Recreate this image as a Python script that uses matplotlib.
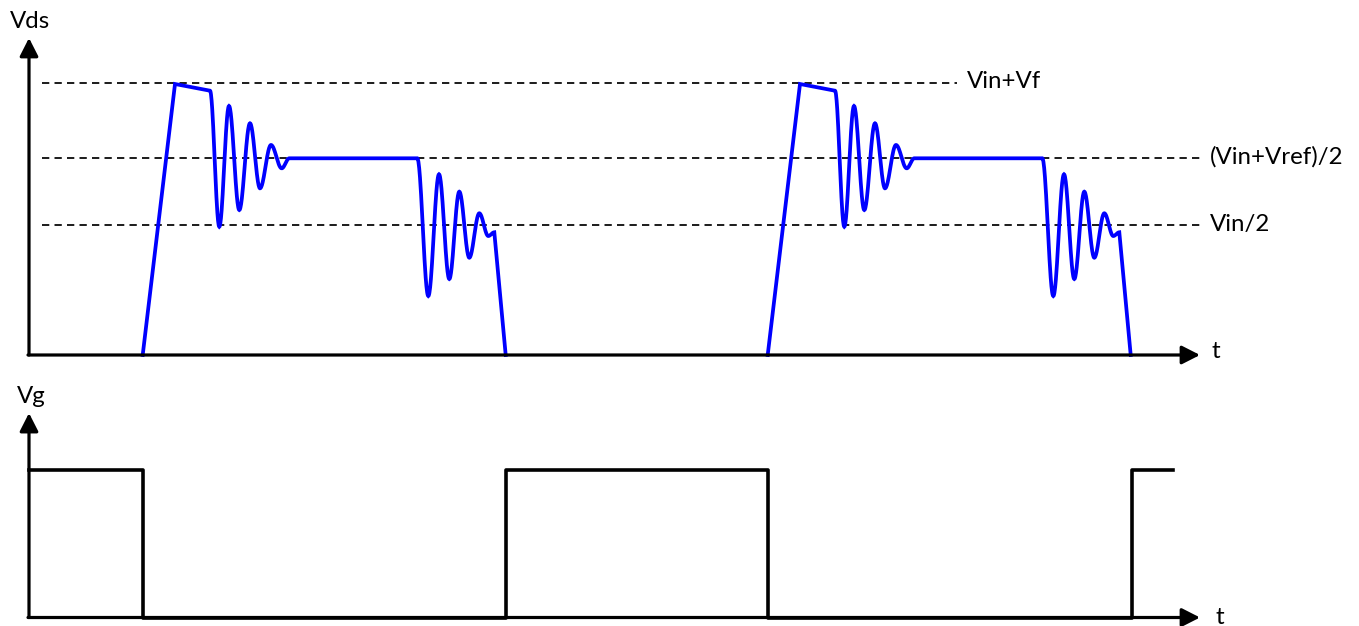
import numpy as np
import matplotlib
matplotlib.use('Agg')
import matplotlib.pyplot as plt

plt.rcParams['font.family'] = ['Lato', 'DejaVu Sans']

# One switching period of Vds (time, level) - corner and ringing extrema
period = 625.0
vds_t = [113.7, 146, 181, 190.3, 200, 210.3, 221, 231, 242, 252.7, 260.3,
         388.3, 399.3, 410, 420.3, 430.3, 440.3, 450.3, 459.3, 465.3, 476.7]
vds_v = [0, 271, 264.3, 128.3, 249, 145, 231.7, 166.7, 210, 186.7, 196.7,
         196.7, 59, 180.7, 76, 163.3, 97.3, 141.7, 119, 122.7, 0]
# segment shape: 0 = straight, 1 = smooth ringing
vds_seg = [0, 0, 1, 1, 1, 1, 1, 1, 1, 1, 0, 1, 1, 1, 1, 1, 1, 1, 1, 0]
n_periods = 2

# reference levels
levels = [272, 196.7, 130]
level_labels = ['Vin+Vf', '(Vin+Vref)/2', 'Vin/2']
level_end = [928, 1171, 1171]
level_label_t = [938, 1181, 1181]

# gate drive
vg_t = [0, 113.7, 113.7, 476.7, 476.7, 738.7, 738.7, 1102.7, 1102.7, 1144.3]
vg_v = [1, 1, 0, 0, 1, 1, 0, 0, 1, 1]


def build_wave(ts, vs, seg):
    xs, ys = [ts[0]], [vs[0]]
    for i, kind in enumerate(seg):
        a, b = ts[i], ts[i + 1]
        va, vb = vs[i], vs[i + 1]
        if kind == 0:
            xs.append(b)
            ys.append(vb)
        else:
            s = np.linspace(0, 1, 30)[1:]
            xs.extend(a + (b - a) * s)
            ys.extend(va + (vb - va) * (1 - np.cos(np.pi * s)) / 2)
    return np.array(xs), np.array(ys)


W, H = 1359, 626
fig = plt.figure(figsize=(W / 100, H / 100), dpi=100)
ax1 = fig.add_axes([0, 246 / H, 1, 380 / H])
ax2 = fig.add_axes([0, 0, 1, 246 / H])
for ax in (ax1, ax2):
    ax.set_xlim(-29, W - 29)
    ax.axis('off')
ax1.set_ylim(-25, 355)
ax2.set_ylim(-8.5 / 147.5, 237.5 / 147.5)

arrow = dict(arrowstyle='-|>,head_length=0.55,head_width=0.28', lw=2.3,
             color='black', mutation_scale=20, shrinkA=0, shrinkB=0)

# Vds panel
for lv, lab, te, tl in zip(levels, level_labels, level_end, level_label_t):
    ax1.plot([13, te], [lv, lv], color='black', lw=1.25,
             linestyle=(0, (4.2, 3.0)), zorder=1)
    ax1.text(tl, lv + 1, lab, fontsize=17.3, va='center', ha='left')

x, y = build_wave(vds_t, vds_v, vds_seg)
for k in range(n_periods):
    ax1.plot(x + k * period, y, color='#0000ff', lw=2.7, zorder=3,
             solid_joinstyle='miter')

ax1.annotate('', xy=(0, 317), xytext=(0, 0), arrowprops=arrow)
ax1.annotate('', xy=(1171, 0), xytext=(-1, 0), arrowprops=arrow)
ax1.text(1, 333, 'Vds', fontsize=17.3, ha='center', va='center')
ax1.text(1187, 3, 't', fontsize=17.3, ha='center', va='center')

# Vg panel
ax2.plot(vg_t, vg_v, color='black', lw=2.6, zorder=3)
ax2.annotate('', xy=(0, 1.386), xytext=(0, 0), arrowprops=arrow)
ax2.annotate('', xy=(1171, 0), xytext=(-1, 0), arrowprops=arrow)
ax2.text(2.5, 1.495, 'Vg', fontsize=17.3, ha='center', va='center')
ax2.text(1191, 0.0, 't', fontsize=17.3, ha='center', va='center')

fig.savefig('out.png', dpi=100)
